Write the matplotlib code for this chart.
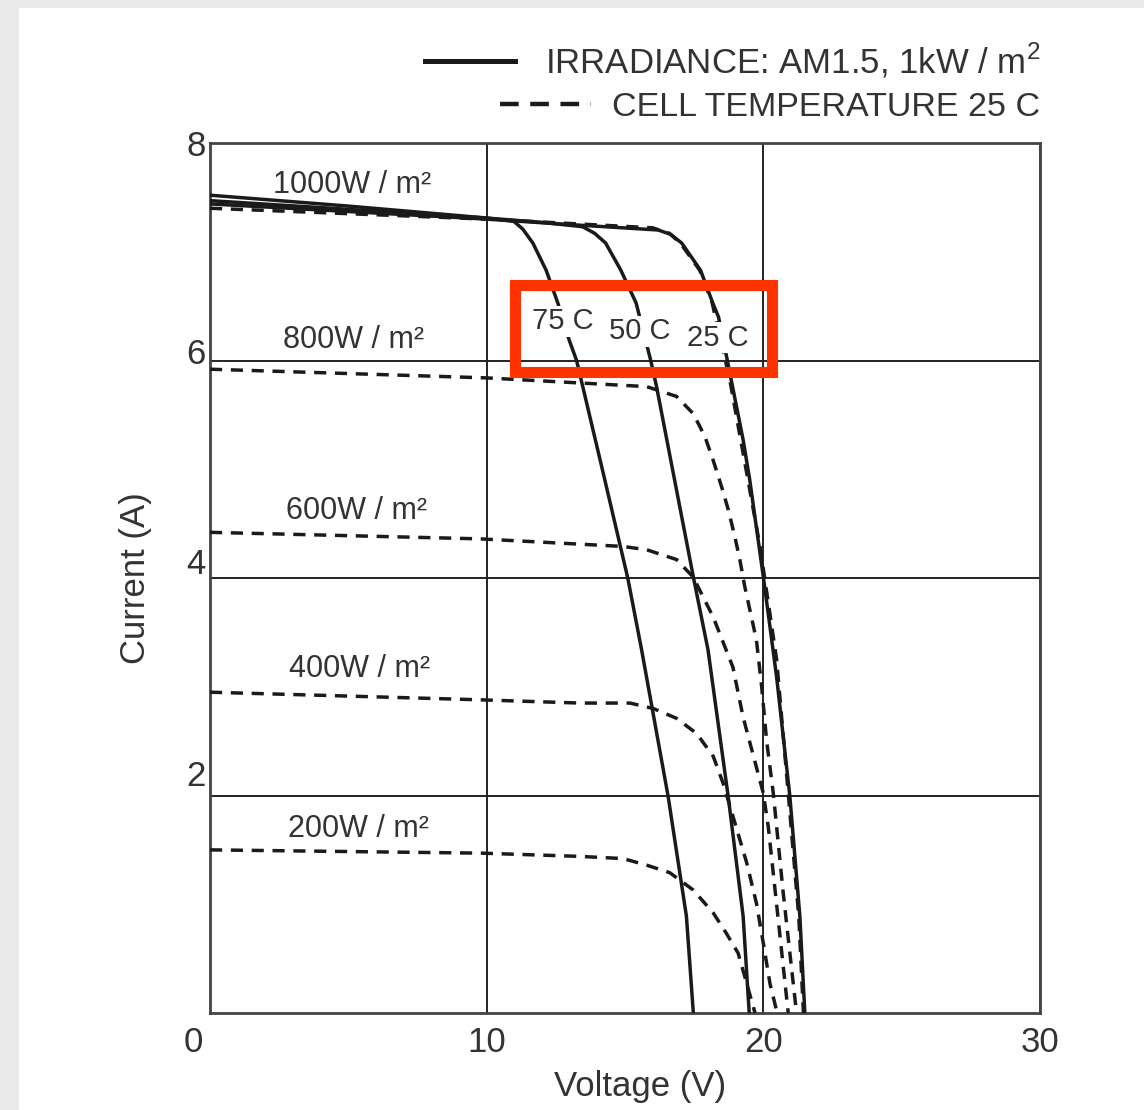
import matplotlib
matplotlib.use('Agg')
import matplotlib.pyplot as plt
from matplotlib.lines import Line2D
from matplotlib.patches import Rectangle
from matplotlib.transforms import ScaledTranslation

plt.rcParams['font.family'] = ['Liberation Sans', 'DejaVu Sans']
plt.rcParams['mathtext.fontset'] = 'custom'
plt.rcParams['mathtext.rm'] = 'Liberation Sans'

# irradiance 1000 W/m2, three cell temperatures (solid curves)
v_75c = [0, 5, 10, 10.98, 11.3, 11.67, 12.15, 12.57, 12.98, 13.25, 14.18, 15.1, 15.6, 16.56, 17.22, 17.47]
i_75c = [7.52, 7.42, 7.31, 7.28, 7.21, 7.08, 6.83, 6.53, 6.19, 6.0, 5.0, 4.0, 3.34, 1.99, 0.89, 0]
v_50c = [0, 5, 10, 12, 13.47, 13.9, 14.3, 14.85, 15.4, 15.93, 16.14, 17.47, 18.0, 18.73, 19.27, 19.49]
i_50c = [7.47, 7.39, 7.31, 7.27, 7.23, 7.17, 7.08, 6.83, 6.53, 6.0, 5.76, 4.01, 3.34, 1.99, 0.89, 0]
v_25c = [0, 5, 10, 13, 16.2, 16.65, 17.05, 17.73, 18.17, 18.38, 18.7, 19.27, 19.51, 20.0, 20.35, 20.48, 20.96, 21.32, 21.5]
i_25c = [7.44, 7.37, 7.30, 7.25, 7.20, 7.16, 7.08, 6.83, 6.53, 6.40, 6.0, 5.27, 4.90, 4.01, 3.34, 3.09, 1.99, 0.89, 0]

# cell temperature 25 C, five irradiances (dashed curves)
v_1000 = [0, 10, 16.0, 16.6, 17.0, 17.7, 18.15, 18.79, 19.88, 20.48, 20.9, 21.28, 21.45]
i_1000 = [7.40, 7.30, 7.22, 7.17, 7.08, 6.83, 6.53, 5.82, 4.29, 3.25, 2.02, 0.89, 0]
v_800 = [0, 10, 15.78, 16.86, 17.47, 17.89, 18.19, 18.49, 18.73, 18.97, 19.15, 19.33, 19.75, 19.94, 20.12, 20.36, 20.72, 21.2]
i_800 = [5.92, 5.84, 5.76, 5.67, 5.51, 5.30, 5.08, 4.84, 4.63, 4.38, 4.17, 3.92, 3.43, 3.0, 2.5, 2.02, 1.10, 0]
v_600 = [0, 9.75, 14.93, 15.78, 16.86, 17.46, 18.19, 18.9, 19.27, 19.75, 20.0, 20.18, 20.9]
i_600 = [4.42, 4.36, 4.29, 4.26, 4.17, 4.01, 3.64, 3.18, 2.72, 2.26, 2.02, 1.71, 0]
v_400 = [0, 9.75, 13.37, 15.18, 16.02, 16.86, 17.59, 18.19, 18.55, 18.97, 19.4, 19.75, 20.0, 20.24, 20.5]
i_400 = [2.95, 2.88, 2.85, 2.85, 2.80, 2.71, 2.57, 2.36, 2.11, 1.75, 1.38, 1.01, 0.64, 0.27, 0]
v_200 = [0, 9.8, 13.37, 14.93, 15.78, 16.62, 17.47, 18.19, 18.67, 19.09, 19.7]
i_200 = [1.50, 1.47, 1.44, 1.42, 1.36, 1.29, 1.13, 0.92, 0.73, 0.55, 0]

irr_labels = ['1000W / m²', '800W / m²', '600W / m²', '400W / m²', '200W / m²']
irr_label_v = [5.14, 5.2, 5.3, 5.42, 5.35]
irr_label_i = [7.61, 6.19, 4.62, 3.16, 1.69]
temp_labels = ['75 C', '50 C', '25 C']
temp_label_v = [12.76, 15.54, 18.36]
temp_label_i = [6.36, 6.27, 6.21]

ink = '#1a1a1a'
txt = '#333333'

fig = plt.figure(figsize=(11.44, 11.10), dpi=100)
fig.patch.set_facecolor('#e9e9e9')
fig.add_artist(Rectangle((19 / 1144, 0), 1, 1 - 8 / 1110, transform=fig.transFigure,
                         facecolor='white', edgecolor='none', zorder=-1))
ax = fig.add_axes([210 / 1144, 97 / 1110, 830 / 1144, 870 / 1110])
ax.set_facecolor('white')

for v, i in [(v_75c, i_75c), (v_50c, i_50c), (v_25c, i_25c)]:
    ax.plot(v, i, color=ink, lw=2.5, solid_joinstyle='round', zorder=3)
for v, i in [(v_1000, i_1000), (v_800, i_800), (v_600, i_600), (v_400, i_400), (v_200, i_200)]:
    ax.plot(v, i, color=ink, lw=2.5, dashes=(3.5, 2.5), zorder=3)

for lab, x, y in zip(irr_labels, irr_label_v, irr_label_i):
    ax.text(x, y, lab, fontsize=22, color=txt, ha='center', va='center', zorder=4)
for lab, x, y in zip(temp_labels, temp_label_v, temp_label_i):
    ax.text(x, y, lab, fontsize=21, color=txt, ha='center', va='center', zorder=4,
            bbox=dict(facecolor='white', edgecolor='none', pad=1))

ax.add_patch(Rectangle((11.04, 5.89), 20.31 - 11.04, 6.69 - 5.89, fill=False,
                       edgecolor='#ff3300', lw=8, clip_on=False, zorder=6))

ax.set_xlim(0, 30)
ax.set_ylim(0, 8)
ax.set_xticks([0, 10, 20, 30])
ax.set_yticks([2, 4, 6, 8])
ax.grid(True, color='#222222', lw=1.4)
ax.set_axisbelow(True)
ax.tick_params(length=0, labelsize=25, colors=txt)
ax.tick_params(axis='x', pad=9)
ax.tick_params(axis='y', pad=3)
for s in ax.spines.values():
    s.set_color('#444444')
    s.set_linewidth(2)

# nudge tick labels like the original print
for lab, dy in zip(ax.get_yticklabels(), [16, 12, 7, 0]):
    lab.set_transform(lab.get_transform() + ScaledTranslation(0, dy / 72, fig.dpi_scale_trans))
x0 = ax.get_xticklabels()[0]
x0.set_transform(x0.get_transform() + ScaledTranslation(-12 / 72, 0, fig.dpi_scale_trans))

ax.set_xlabel('Voltage (V)', fontsize=25, color=txt, va='center')
ax.xaxis.set_label_coords(0.518, -0.084)
ax.set_ylabel('Current (A)', fontsize=25, color=txt, va='center', ha='center')
ax.yaxis.set_label_coords(-0.090, 0.5)

h1 = Line2D([], [], color=ink, lw=3.6)
h2 = Line2D([], [], color=ink, lw=3.2, dashes=(4.2, 2.6))
leg1 = ax.legend([h1], ['IRRADIANCE: AM1.5, 1kW / m$^2$'], loc='center right',
                 bbox_to_anchor=(1.0, 1.095), frameon=False, fontsize=25,
                 handlelength=2.6, handletextpad=0.85, borderpad=0, borderaxespad=0,
                 labelcolor=txt)
ax.add_artist(leg1)
ax.legend([h2], ['CELL TEMPERATURE 25 C'], loc='center right',
          bbox_to_anchor=(1.0, 1.041), frameon=False, fontsize=24.5,
          handlelength=2.7, handletextpad=0.6, borderpad=0, borderaxespad=0,
          labelcolor=txt)

fig.savefig('out.png', dpi=100, facecolor=fig.get_facecolor())
